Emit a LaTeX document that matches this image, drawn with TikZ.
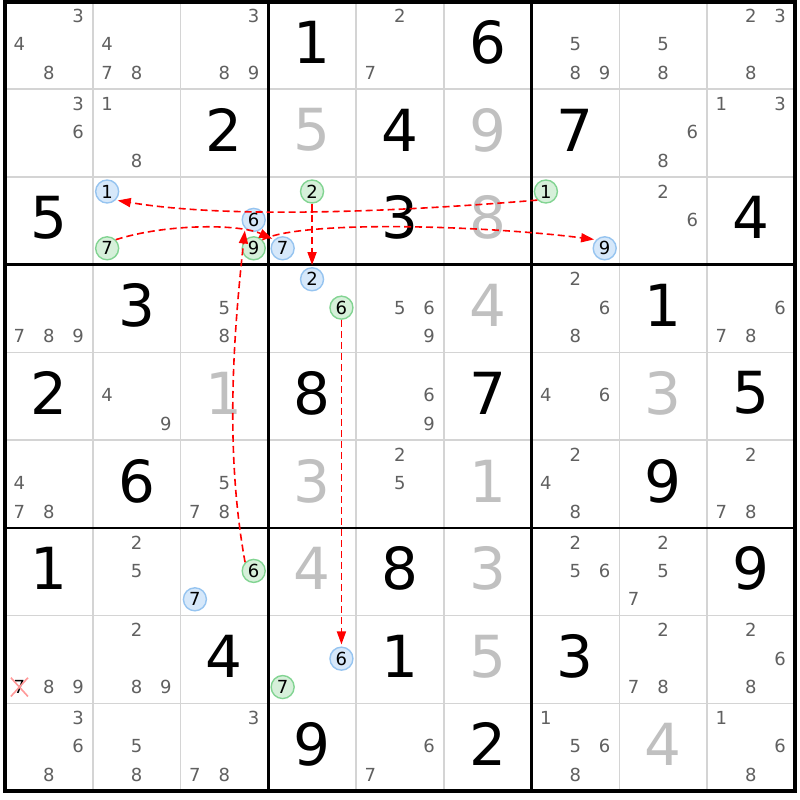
\documentclass[tikz,border=0pt]{standalone}
\usepackage{fontspec}
\setmainfont{DejaVu Sans}
\usetikzlibrary{arrows.meta,shapes.misc}
\definecolor{candgray}{RGB}{96,96,96}
\definecolor{solvedgray}{RGB}{192,192,192}
\definecolor{gridgray}{RGB}{212,212,212}
\definecolor{offfill}{RGB}{214,232,250}
\definecolor{offline}{RGB}{150,196,240}
\definecolor{onfill}{RGB}{214,240,218}
\definecolor{online}{RGB}{130,212,146}

\begin{document}
\begin{tikzpicture}[x=1pt,y=-1pt,
    given/.style={font=\fontsize{58}{58}\selectfont,text=black,inner sep=0pt},
    solved/.style={given,text=solvedgray},
    cand/.style={font=\fontsize{18}{18}\selectfont,text=candgray,inner sep=0pt},
    off/.style={cand,text=black,circle,draw=offline,fill=offfill,line width=1.4pt,minimum size=23pt},
    on/.style={off,draw=online,fill=onfill},
    elim/.style={cand,text=black,cross out,draw=red!40,line width=1.6pt,inner sep=2pt},
    link/.style={red,dash pattern=on 7pt off 4pt,line width=1.6pt,
      -{Triangle[length=13pt,width=9pt]},shorten >=2pt}]
     \def\s{87.75}
     \def\xo{5}
     \def\yo{1.3}
     \fill[white] (0,0) rectangle (800,800);
     \useasboundingbox (0,0) rectangle (800,800);
     \foreach \i in {1,...,8}{
       \draw[gridgray,line width=1.5pt] ({\xo+\i*\s},\yo) -- ({\xo+\i*\s},{\yo+9*\s});
       \draw[gridgray,line width=1.5pt] (\xo,{\yo+\i*\s}) -- ({\xo+9*\s},{\yo+\i*\s});
     }
     \foreach \i in {3,6}{
       \draw[line width=2.5pt] ({\xo+\i*\s},\yo) -- ({\xo+\i*\s},{\yo+9*\s});
       \draw[line width=2.5pt] (\xo,{\yo+\i*\s}) -- ({\xo+9*\s},{\yo+\i*\s});
     }
     \draw[line width=4.5pt] (\xo,\yo) rectangle ({\xo+9*\s},{\yo+9*\s});
     \foreach \r/\c/\v in {1/4/1,1/6/6,2/3/2,2/5/4,2/7/7,3/1/5,3/5/3,3/9/4,4/2/3,4/8/1,
         5/1/2,5/4/8,5/6/7,5/9/5,6/2/6,6/8/9,7/1/1,7/5/8,7/9/9,8/3/4,8/5/1,8/7/3,9/4/9,9/6/2}
       \node[given] (v\r\c) at ({\xo+(\c-0.5)*\s},{\yo+(\r-0.5)*\s-3}) {\v};
     \foreach \r/\c/\v in {2/4/5,2/6/9,3/6/8,4/6/4,5/3/1,5/8/3,6/4/3,6/6/1,7/4/4,7/6/3,8/6/5,9/8/4}
       \node[solved] (v\r\c) at ({\xo+(\c-0.5)*\s},{\yo+(\r-0.5)*\s-3}) {\v};
     \foreach \r/\c/\l in {1/1/{3,4,8},1/2/{4,7,8},1/3/{3,8,9},1/5/{2,7},1/7/{5,8,9},1/8/{5,8},
         1/9/{2,3,8},2/1/{3,6},2/2/{1,8},2/8/{6,8},2/9/{1,3},3/8/{2,6},
         4/1/{7,8,9},4/3/{5,8},4/5/{5,6,9},4/7/{2,6,8},4/9/{6,7,8},
         5/2/{4,9},5/5/{6,9},5/7/{4,6},
         6/1/{4,7,8},6/3/{5,7,8},6/5/{2,5},6/7/{2,4,8},6/9/{2,7,8},
         7/2/{2,5},7/7/{2,5,6},7/8/{2,5,7},
         8/1/{8,9},8/2/{2,8,9},8/8/{2,7,8},8/9/{2,6,8},
         9/1/{3,6,8},9/2/{5,8},9/3/{3,7,8},9/5/{6,7},9/7/{1,5,6,8},9/9/{1,6,8}}
       \foreach \d in \l
         \node[cand] (n\r\c\d) at ({\xo+(\c-1)*\s+14.4+mod(\d-1,3)*29.4},
           {\yo+(\r-1)*\s+14.7+int((\d-1)/3)*28.4}) {\d};
     \foreach \r/\c/\d/\k in {3/2/1/off,3/3/6/off,3/4/7/off,3/7/9/off,4/4/2/off,7/3/7/off,8/4/6/off,
         3/2/7/on,3/3/9/on,3/4/2/on,3/7/1/on,4/4/6/on,7/3/6/on,8/4/7/on}
       \node[\k] (n\r\c\d) at ({\xo+(\c-1)*\s+14.4+mod(\d-1,3)*29.4},
           {\yo+(\r-1)*\s+14.7+int((\d-1)/3)*28.4}) {\d};
     \node[elim] (n817) at ({\xo+14.4},{\yo+7*\s+14.7+2*28.4}) {7};
     \draw[link] (n736.north west) .. controls +(-20,-110) and +(-12,110) .. (n336.south west);
     \draw[link] (n339.north east) .. controls +(40,-20) and +(-110,-14) .. (n379.north west);
     \draw[link] (n371.south west) .. controls +(-120,10) and +(120,20) .. (n321.south east);
     \draw[link] (n327.north east) .. controls +(50,-16) and +(-35,-16) .. (n347.north west);
     \draw[link] (n342) -- (n442);
     \draw[link] (n446) -- (n846);
\end{tikzpicture}
\end{document}
